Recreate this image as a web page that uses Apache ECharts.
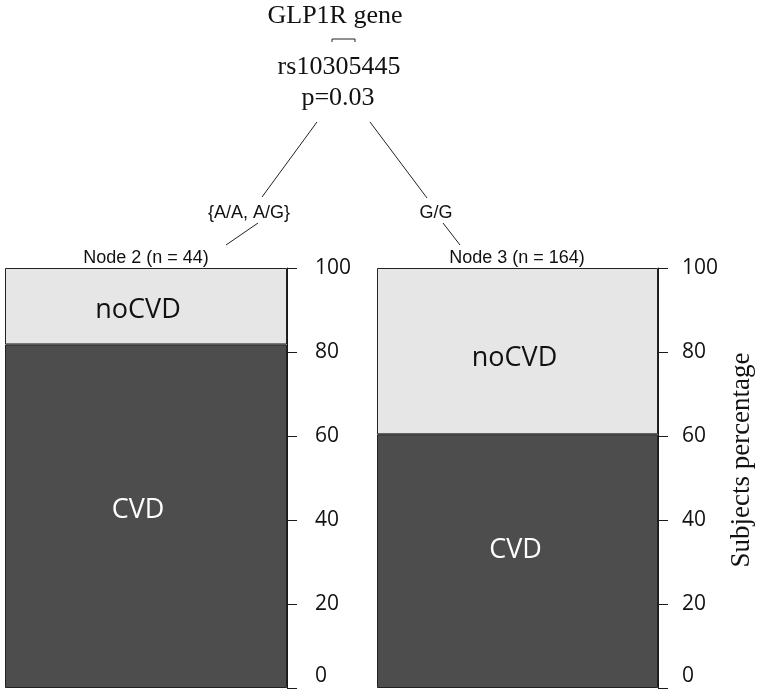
<!DOCTYPE html>
<html>
<head>
<meta charset="utf-8">
<script src="https://cdn.jsdelivr.net/npm/echarts@6/dist/echarts.min.js"></script>
<style>
  html, body { margin: 0; padding: 0; background: #fff; }
</style>
</head>
<body>
<div id="e1" style="width: 760px; height: 693px;"></div>
<script>
  // node data
  const nodeNames = ['Node 2 (n = 44)', 'Node 3 (n = 164)'];
  const edgeLabels = ['{A/A, A/G}', 'G/G'];
  const cvdPct = [81.8, 60.4];
  const noCvdPct = [18.2, 39.6];
  const yTicks = [0, 20, 40, 60, 80, 100];

  const colors = { cvd: '#4d4d4d', nocvd: '#e6e6e6', line: '#1a1a1a' };
  // label nudges so the text sits where the original put it
  const cvdOffset = [[-8, -6], [-2, -11]];
  const noCvdOffset = [[-8, 4], [-3, 7]];

  const myChart = echarts.init(document.getElementById('e1'));

  const grids = [
    { left: 5, top: 268, width: 282, height: 420, outerBoundsMode: 'none', containLabel: false },
    { left: 377, top: 268, width: 281, height: 420, outerBoundsMode: 'none', containLabel: false }
  ];
  const labelMargin = [28, 24];

  const xAxes = [], yAxes = [], series = [];
  nodeNames.forEach(function (name, i) {
    xAxes.push({
      type: 'category', gridIndex: i, data: [name],
      show: false, boundaryGap: true
    });
    yAxes.push({
      type: 'value', gridIndex: i, position: 'right',
      min: 0, max: 100, interval: 20,
      axisLine: { show: true, lineStyle: { color: colors.line, width: 1 } },
      axisTick: { show: true, length: 10, lineStyle: { color: colors.line } },
      splitLine: { show: false },
      axisLabel: {
        margin: labelMargin[i],
        fontFamily: 'Open Sans', fontSize: 21, color: '#111',
        formatter: function (v) {
          if (yTicks.indexOf(v) < 0) return '';
          return v === 0 ? '{low|0}' : String(v);   // 0 sits a bit above its tick
        },
        rich: { low: { fontFamily: 'Open Sans', fontSize: 21, color: '#111', padding: [0, 0, 24, 0] } }
      }
    });
    series.push({
      name: 'CVD', type: 'bar', stack: 'n' + i,
      xAxisIndex: i, yAxisIndex: i,
      barWidth: '100%',
      data: [cvdPct[i]],
      itemStyle: { color: colors.cvd, borderColor: '#222', borderWidth: 1 },
      label: {
        show: true, position: 'inside', formatter: 'CVD',
        offset: cvdOffset[i],
        fontFamily: 'Open Sans', fontSize: 27, color: '#fff'
      }
    });
    series.push({
      name: 'noCVD', type: 'bar', stack: 'n' + i,
      xAxisIndex: i, yAxisIndex: i,
      barWidth: '100%',
      data: [noCvdPct[i]],
      itemStyle: { color: colors.nocvd, borderColor: '#222', borderWidth: 1 },
      label: {
        show: true, position: 'inside', formatter: 'noCVD',
        offset: noCvdOffset[i],
        fontFamily: 'Open Sans', fontSize: 27, color: '#111'
      }
    });
  });

  const serif = 'Liberation Serif, DejaVu Serif, serif';
  const sans = 'Liberation Sans, Arial, sans-serif';
  const txt = function (x, y, text, font, size) {
    return {
      type: 'text', x: x, y: y,
      style: { text: text, fontFamily: font, fontSize: size, fill: '#111',
               align: 'center', verticalAlign: 'middle' }
    };
  };
  const seg = function (x1, y1, x2, y2) {
    return {
      type: 'line', shape: { x1: x1, y1: y1, x2: x2, y2: y2 },
      style: { stroke: '#222', lineWidth: 1 }
    };
  };

  let option = {
    backgroundColor: '#fff',
    animation: false,
    grid: grids,
    xAxis: xAxes,
    yAxis: yAxes,
    series: series,
    graphic: [
      txt(335, 16, 'GLP1R gene', serif, 26),
      { type: 'polyline', shape: { points: [[332, 42], [332, 39], [355, 39], [355, 42]] },
        style: { stroke: '#222', lineWidth: 1, fill: null } },
      txt(339, 67, 'rs10305445', serif, 26),
      txt(338, 98, 'p=0.03', serif, 26),
      seg(317, 122, 262, 197),
      seg(370, 122, 427, 198),
      txt(249, 213, edgeLabels[0], sans, 18),
      txt(436, 213, edgeLabels[1], sans, 18),
      seg(258, 223, 226, 245),
      seg(443, 223, 460, 245),
      txt(146, 258, nodeNames[0], sans, 18),
      txt(517, 258, nodeNames[1], sans, 18),
      {
        type: 'text', x: 742, y: 460, rotation: Math.PI / 2,
        style: { text: 'Subjects percentage', fontFamily: serif, fontSize: 27,
                 fill: '#111', align: 'center', verticalAlign: 'middle' }
      }
    ]
  };
  myChart.setOption(option);
</script>
</body>
</html>
